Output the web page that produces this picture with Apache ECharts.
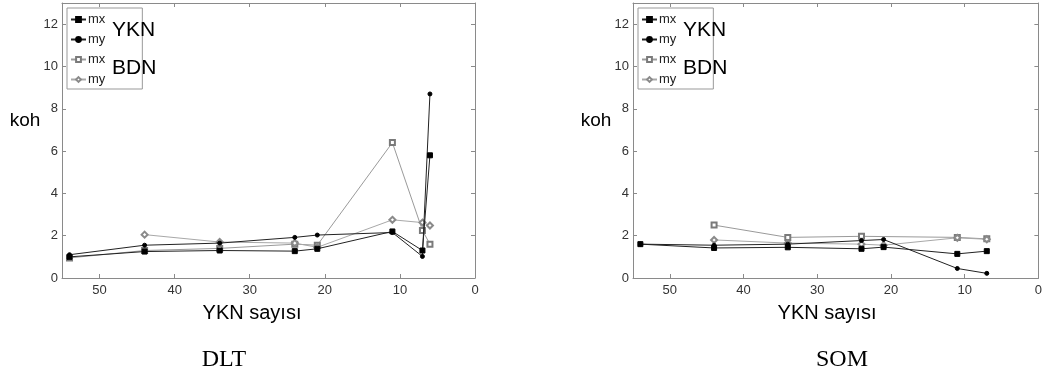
<!DOCTYPE html>
<html>
<head>
<meta charset="utf-8">
<script src="https://cdn.jsdelivr.net/npm/echarts@6/dist/echarts.min.js"></script>
<style>
  html, body { margin: 0; padding: 0; background: #fff; }
  #chart { width: 1045px; height: 379px; }
</style>
</head>
<body>
<div id="chart"></div>
<script>
// DLT panel
const dltX = [54, 44, 34, 24, 21, 11, 7, 6];
const dltYknMx = [1.0, 1.25, 1.3, 1.27, 1.38, 2.2, 1.3, 5.8];
const dltYknMy = [1.1, 1.55, 1.65, 1.92, 2.03, 2.15, 1.02, 8.7];
const dltBdnMx = [0.95, 1.3, 1.4, 1.6, 1.55, 6.4, 2.25, 1.6];
const dltBdnMy = [null, 2.05, 1.7, 1.65, 1.45, 2.75, 2.62, 2.48];

// SOM panel
const somX = [54, 44, 34, 24, 21, 11, 7];
const somYknMx = [1.6, 1.42, 1.45, 1.38, 1.46, 1.14, 1.27];
const somYknMy = [1.6, 1.55, 1.6, 1.77, 1.82, 0.45, 0.22];
const somBdnMx = [null, 2.5, 1.92, 1.97, null, 1.92, 1.85];
const somBdnMy = [null, 1.8, 1.65, 1.6, 1.55, 1.9, 1.83];

const groupLabels = ["YKN", "BDN"];
const xName = "YKN sayısı";
const yName = "koh";

const font = "Arial, 'Liberation Sans', sans-serif";
const serif = "'Liberation Serif', 'Times New Roman', serif";
const frame = "#8a8a8a";

const styles = {
  "YKN mx": { symbol: "rect", symbolSize: 5, line: "#222", mark: "#000" },
  "YKN my": { symbol: "circle", symbolSize: 4, line: "#222", mark: "#000" },
  "BDN mx": { symbol: "emptyRect", symbolSize: 5, line: "#9a9a9a", mark: "#7a7a7a" },
  "BDN my": { symbol: "emptyDiamond", symbolSize: 6, line: "#a8a8a8", mark: "#8a8a8a" },
};

const panels = [
  { title: "DLT", x: dltX, data: { "YKN mx": dltYknMx, "YKN my": dltYknMy, "BDN mx": dltBdnMx, "BDN my": dltBdnMy },
    left: 62, width: 413, kohX: 25, xNameX: 252, titleX: 224 },
  { title: "SOM", x: somX, data: { "YKN mx": somYknMx, "YKN my": somYknMy, "BDN mx": somBdnMx, "BDN my": somBdnMy },
    left: 633, width: 412, kohX: 596, xNameX: 827, titleX: 842 },
];

const grid = [], xAxis = [], yAxis = [], series = [], legend = [], graphic = [];

panels.forEach((p, i) => {
  grid.push({ left: p.left, top: 3, width: p.width, height: 275 });

  const tick = { inside: true, length: 4, lineStyle: { color: frame } };
  const line = { show: true, onZero: false, lineStyle: { color: frame, width: 1 } };
  const label = { color: "#333", fontSize: 13, fontFamily: font, showMaxLabel: false };

  xAxis.push({
    gridIndex: i, type: "value", min: 0, max: 55, interval: 10, inverse: true,
    position: "bottom", axisLine: line, axisTick: tick, splitLine: { show: false },
    axisLabel: { ...label, margin: 6 },
  });
  xAxis.push({
    gridIndex: i, type: "value", min: 0, max: 55, interval: 10, inverse: true,
    position: "top", axisLine: line, axisTick: tick, splitLine: { show: false },
    axisLabel: { show: false },
  });
  yAxis.push({
    gridIndex: i, type: "value", min: 0, max: 13, interval: 2,
    position: "left", axisLine: line, axisTick: tick, splitLine: { show: false },
    axisLabel: { ...label, margin: 4 },
  });
  yAxis.push({
    gridIndex: i, type: "value", min: 0, max: 13, interval: 2,
    position: "right", axisLine: line, axisTick: tick, splitLine: { show: false },
    axisLabel: { show: false },
  });

  const names = [];
  Object.keys(p.data).forEach((key) => {
    const s = styles[key];
    const name = p.title + " " + key;
    names.push(name);
    series.push({
      name, type: "line",
      xAxisIndex: i * 2, yAxisIndex: i * 2,
      data: p.x.map((x, k) => [x, p.data[key][k]]),
      connectNulls: true,
      symbol: s.symbol, symbolSize: s.symbolSize, showAllSymbol: true,
      lineStyle: { color: s.line, width: 1 },
      itemStyle: { color: s.mark, borderColor: s.mark, borderWidth: 1 },
      z: key.startsWith("YKN") ? 3 : 2,
    });
  });

  legend.push({
    data: names, orient: "vertical", left: p.left + 5, top: 8,
    padding: [5, 37, 3, 3], itemGap: 7, itemWidth: 15, itemHeight: 6,
    backgroundColor: "#fff", borderColor: "#999", borderWidth: 1, borderRadius: 0,
    textStyle: { fontSize: 13, fontFamily: font, color: "#222", padding: [0, 0, 0, -3] },
    formatter: (n) => n.split(" ")[2],
    selectedMode: false,
  });

  graphic.push(
    { type: "text", x: p.left + 50, y: 30, z: 100, style: { text: groupLabels[0], font: "21px " + font, fill: "#000", textVerticalAlign: "middle" } },
    { type: "text", x: p.left + 50, y: 68, z: 100, style: { text: groupLabels[1], font: "21px " + font, fill: "#000", textVerticalAlign: "middle" } },
    { type: "text", x: p.kohX, y: 121, style: { text: yName, font: "19px " + font, fill: "#000", textAlign: "center", textVerticalAlign: "middle" } },
    { type: "text", x: p.xNameX, y: 313, style: { text: xName, font: "20px " + font, fill: "#000", textAlign: "center", textVerticalAlign: "middle" } },
    { type: "text", x: p.titleX, y: 360, style: { text: p.title, font: "24px " + serif, fill: "#000", textAlign: "center", textVerticalAlign: "middle" } }
  );
});

const chart = echarts.init(document.getElementById("chart"));
chart.setOption({
  animation: false,
  backgroundColor: "#fff",
  grid, xAxis, yAxis, series, legend, graphic,
});
</script>
</body>
</html>
